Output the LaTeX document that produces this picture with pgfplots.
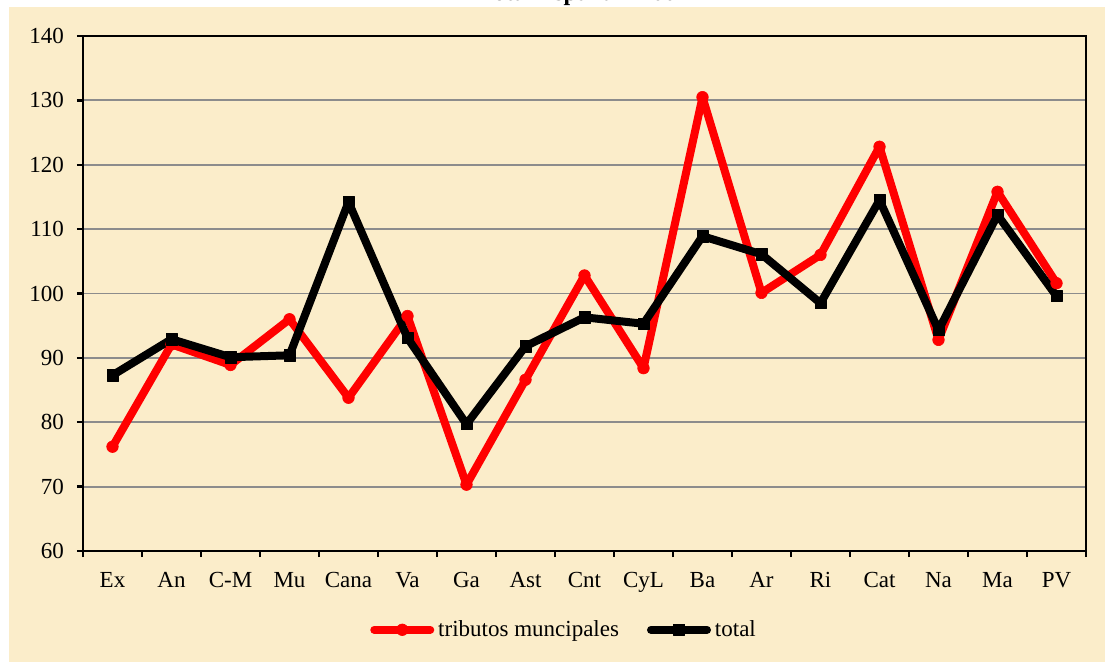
\documentclass[border=0pt]{standalone}
\usepackage{pgfplots}
\pgfplotsset{compat=1.18}
\usepackage{fontspec}
\setmainfont{Liberation Serif}
\definecolor{beige}{RGB}{251,237,202}
\definecolor{gridg}{RGB}{140,140,140}

\begin{document}
\begin{tikzpicture}
\useasboundingbox (0,0) rectangle (552.5bp,331bp);
\fill[beige] (4.5bp,0) rectangle (552.5bp,327.5bp);
\begin{scope}
  \clip (0,327.5bp) rectangle (552.5bp,331bp);
  \node[anchor=base, font=\fontsize{12bp}{14bp}\selectfont\bfseries, inner sep=0pt] at (289bp,330.6bp) {Total España = 100};
\end{scope}
\begin{axis}[
    at={(41.5bp,55.5bp)}, anchor=south west,
    scale only axis,
    width=501.5bp, height=257.5bp,
    xmin=-0.5, xmax=16.5,
    ymin=60, ymax=140,
    ytick distance=10,
    xtick={-0.5,0.5,...,16.5},
    x tick label as interval,
    xticklabels={Ex,An,C-M,Mu,Cana,Va,Ga,Ast,Cnt,CyL,Ba,Ar,Ri,Cat,Na,Ma,PV},
    tick align=outside,
    tick pos=left,
    major tick length=3bp,
    tick style={black, line width=1.2bp},
    axis line style={black, line width=1.2bp},
    ymajorgrids,
    grid style={gridg, line width=0.9bp},
    font=\fontsize{11.5bp}{14bp}\selectfont,
    /pgf/number format/assume math mode=true,
    yticklabel style={xshift=-3bp},
    xticklabel style={yshift=-4bp},
    legend columns=2,
    legend style={at={(0.4806,-0.153)}, anchor=center, draw=none, fill=none,
                  font=\fontsize{11.5bp}{14bp}\selectfont,
                  /tikz/every even column/.append style={column sep=12bp}},
    legend image code/.code={\draw[mark repeat=2,mark phase=2,#1] plot coordinates {(0bp,0bp) (14bp,0bp) (28bp,0bp)};},
]
\addplot[red, line width=4bp, line join=round, line cap=round, mark=*, mark size=2.9bp, mark options={solid, line width=0.3bp}] coordinates {
(0,76.2) (1,92.1) (2,88.9) (3,96.0) (4,83.8) (5,96.5) (6,70.3) (7,86.6) (8,102.8)
(9,88.4) (10,130.5) (11,100.1) (12,106.0) (13,122.8) (14,92.8) (15,115.8) (16,101.6)};
\addlegendentry{tributos muncipales}
\addplot[black, line width=4bp, line join=round, line cap=round, mark=square*, mark size=2.8bp, mark options={solid, line width=0.3bp}] coordinates {
(0,87.3) (1,92.9) (2,90.1) (3,90.4) (4,114.2) (5,93.1) (6,79.7) (7,91.8) (8,96.3)
(9,95.3) (10,108.9) (11,106.1) (12,98.5) (13,114.5) (14,94.3) (15,112.2) (16,99.6)};
\addlegendentry{total}
\end{axis}
\end{tikzpicture}
\end{document}
